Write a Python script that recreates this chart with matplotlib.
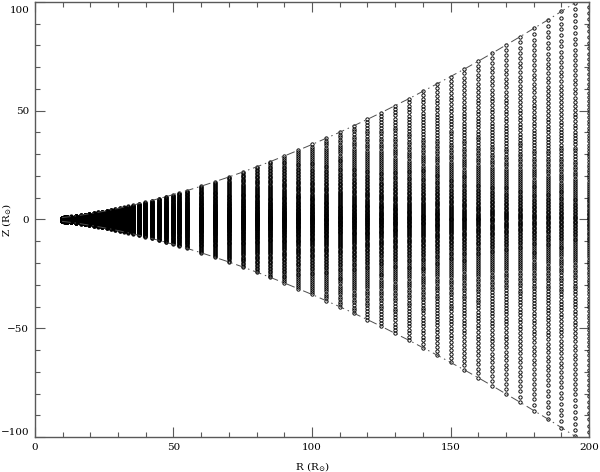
import numpy as np
import matplotlib
matplotlib.use("Agg")
import matplotlib.pyplot as plt
from matplotlib.ticker import MultipleLocator, FixedLocator

# radial positions of the grid columns (R_sun)
r_cols = [9.8, 10.4, 11.0, 11.6, 13.2, 14.8, 16.5, 18.0, 19.6, 21.3, 22.9,
          24.4, 25.9, 27.4, 29.1, 30.7, 32.1, 33.8, 35.4, 37.6, 39.8, 42.1,
          44.8, 47.3, 49.7, 52.2, 54.8, 60, 65, 70, 75, 80, 85, 90, 95, 100,
          105, 110, 115, 120, 125, 130, 135, 140, 145, 150, 155, 160, 165,
          170, 175, 180, 185, 190, 195, 200]

# half height of each column (R_sun)
h_cols = [0.86, 0.94, 1.03, 1.12, 1.38, 1.65, 1.96, 2.26, 2.59, 2.95, 3.31,
          3.66, 4.02, 4.40, 4.85, 5.27, 5.66, 6.14, 6.62, 7.28, 7.97, 8.72,
          9.61, 10.48, 11.34, 12.26, 13.25, 15.29, 17.38, 19.53, 21.80, 24.18,
          26.63, 29.17, 31.79, 34.47, 37.27, 40.09, 43.04, 46.03, 49.12, 52.36,
          55.54, 58.91, 62.25, 65.70, 69.15, 72.76, 76.42, 80.18, 83.95, 87.81,
          91.64, 95.66, 99.70, 103.8]

# vertical grid: cells per half column and midplane refinement
n_half = 68
stretch = 1.65

z_ticks = [-100, -50, 0, 50, 100]
z_ticklabels = ["\u2212100", "\u221250", "0", "50", "100"]


def main():
    plt.rcParams["font.family"] = "DejaVu Serif"
    plt.rcParams["mathtext.fontset"] = "dejavuserif"

    fig = plt.figure(figsize=(6, 4.72), dpi=100)
    ax = fig.add_axes([0.058, 0.074, 0.924, 0.922])

    levels = np.expm1(stretch * np.arange(n_half + 1) / n_half) / np.expm1(stretch)
    levels = np.concatenate([-levels[:0:-1], levels])

    rr, zz = [], []
    for r, h in zip(r_cols, h_cols):
        rr.append(np.full(levels.size, r))
        zz.append(h * levels)
    ax.plot(np.concatenate(rr), np.concatenate(zz), ls="none", marker="o",
            ms=2.4, mfc="none", mec="black", mew=0.65)

    h = np.array(h_cols)
    for sign in (1, -1):
        ax.plot(r_cols, sign * h, color="0.3", lw=0.7,
                linestyle=(0, (9, 4, 1.5, 4)))

    ax.set_xlim(0, 200)
    ax.set_ylim(-100, 100)
    ax.xaxis.set_major_locator(MultipleLocator(50))
    ax.xaxis.set_minor_locator(MultipleLocator(10))
    ax.yaxis.set_major_locator(FixedLocator(z_ticks))
    ax.yaxis.set_minor_locator(MultipleLocator(10))
    # top label drawn separately so it stays inside the figure
    ax.set_yticklabels(z_ticklabels[:-1] + [""])
    ax.annotate(z_ticklabels[-1], xy=(0, 1), xycoords="axes fraction",
                xytext=(-4, -3), textcoords="offset points",
                ha="right", va="top", fontsize=7.5)
    ax.tick_params(which="both", direction="in", top=True, right=True,
                   width=0.8, color="0.35", labelsize=7.5, pad=4)
    ax.tick_params(which="major", length=7)
    ax.tick_params(which="minor", length=3.5)
    for sp in ax.spines.values():
        sp.set_color("0.35")
        sp.set_linewidth(1.0)

    ax.set_xlabel(r"R (R$_{\odot}$)", fontsize=7.5, labelpad=6)
    ax.set_ylabel(r"Z (R$_{\odot}$)", fontsize=7.5)
    ax.yaxis.set_label_coords(-0.04, 0.5)

    fig.canvas.draw()
    ax.get_yticklabels()[0].set_va("bottom")

    fig.savefig("out.png", dpi=100)


if __name__ == "__main__":
    main()
